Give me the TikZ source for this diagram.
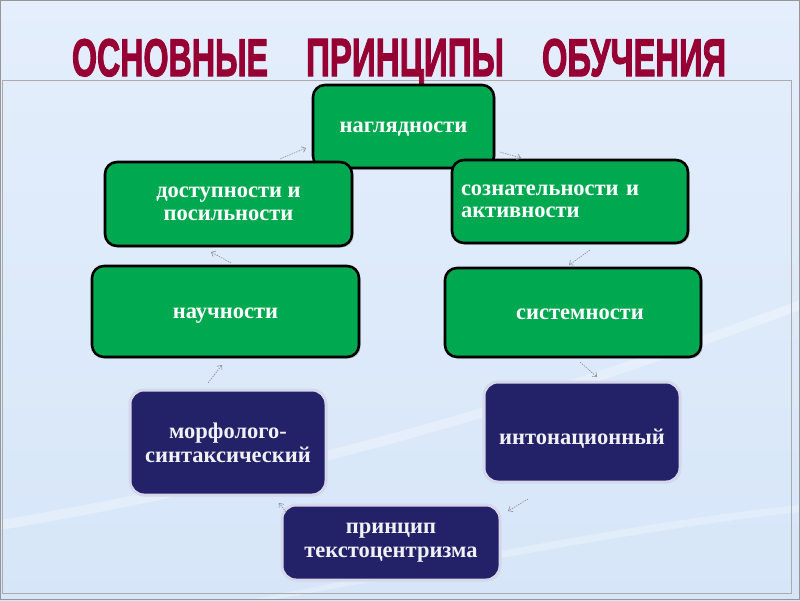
\documentclass[tikz,border=0pt]{standalone}
\usepackage{graphicx}
\usepackage{fontspec}
\setmainfont{Liberation Serif}
\newfontface\titleface{Liberation Sans Bold}[FakeBold=2.5]
\usetikzlibrary{arrows.meta,shadows}
\definecolor{bgtop}{RGB}{228,238,252}
\definecolor{bgbot}{RGB}{214,230,248}
\definecolor{titlered}{RGB}{150,0,50}
\definecolor{boxgreen}{RGB}{0,168,80}
\definecolor{boxnavy}{RGB}{35,33,104}
\definecolor{navyedge}{RGB}{215,215,235}
\definecolor{navytext}{RGB}{240,240,245}
\definecolor{frameg}{RGB}{150,150,150}
\definecolor{arrowg}{RGB}{140,140,150}
\newcommand{\lowtext}[2]{\raisebox{-#1}[0pt][0pt]{#2}}
\begin{document}
\begin{tikzpicture}[x=1pt,y=-1pt,
  greenbox/.style={draw=black, line width=2.6pt, fill=boxgreen, rounded corners=12pt,
    text=white, font=\bfseries\fontsize{22.5}{22.5}\selectfont, align=center,
    drop shadow={shadow xshift=1.5pt, shadow yshift=-1.5pt, opacity=0.45}},
  navybox/.style={draw=navyedge, line width=3pt, fill=boxnavy, rounded corners=14pt,
    text=navytext, font=\bfseries\fontsize{22.5}{24}\selectfont, align=center,
    drop shadow={shadow xshift=1pt, shadow yshift=-1pt, opacity=0.35}},
  flowarrow/.style={draw=arrowg, line width=0.6pt, dash pattern=on 1.5pt off 1pt,
    -{Straight Barb[length=3.5pt,width=6pt]}},
  titleword/.style={text=titlered, anchor=base, inner sep=0pt}
]
\useasboundingbox (0,0) rectangle (800,600);
% background
\shade[top color=bgtop, bottom color=bgbot] (0,0) rectangle (800,600);
\fill[white, opacity=0.3] (0,520) .. controls (300,470) and (560,390) .. (800,300)
  -- (800,310) .. controls (560,400) and (300,480) .. (0,530) -- cycle;
\fill[white, opacity=0.25] (250,600) .. controls (450,560) and (650,520) .. (800,505)
  -- (800,512) .. controls (650,528) and (450,568) .. (270,600) -- cycle;
\draw[frameg, line width=1.2pt] (0.6,0.6) rectangle (799.4,599.4);
\draw[frameg!80, line width=0.8pt] (2,80) rectangle (791,593);

% title
\node[titleword] (t1) at (170,76) {\resizebox{196pt}{37pt}{\titleface ОСНОВНЫЕ}};
\node[titleword] (t2) at (405,76) {\resizebox{198pt}{37pt}{\titleface ПРИНЦИПЫ}};
\node[titleword] (t3) at (634,76) {\resizebox{184pt}{37pt}{\titleface ОБУЧЕНИЯ}};

% green boxes
\node[greenbox, minimum width=181pt, minimum height=83pt] (nagl) at (403.5,126.5) {\lowtext{5.5pt}{наглядности}};
\node[greenbox, minimum width=247pt, minimum height=84pt] (dost) at (228.5,204) {доступности и\\посильности};
\node[greenbox, minimum width=236pt, minimum height=83pt, align=left, text width=218pt, inner xsep=9pt] (soz) at (570,201.5) {сознательности и\\активности};
\node[greenbox, minimum width=267pt, minimum height=91pt] (nauch) at (225.5,311.5) {\lowtext{6.5pt}{научности}};
\node[greenbox, minimum width=256pt, minimum height=89pt] (sist) at (573,312.5) {\lowtext{6.5pt}{\hspace*{14pt}системности}};

% navy boxes
\node[navybox, minimum width=196pt, minimum height=105pt] (morph) at (228,442.5) {морфолого-\\синтаксический};
\node[navybox, minimum width=196pt, minimum height=100pt] (inton) at (582,432) {\lowtext{12pt}{интонационный}};
\node[navybox, minimum width=218pt, minimum height=75pt] (princ) at (391,542.5) {принцип\\текстоцентризма};

% connector end points
\coordinate (a1s) at (280,159);
\coordinate (a1e) at (306,148);
\coordinate (a2s) at (500,152);
\coordinate (a2e) at (521,158);
\coordinate (a3s) at (590,250);
\coordinate (a3e) at (569,265);
\coordinate (a4s) at (580,362);
\coordinate (a4e) at (597,377);
\coordinate (a5s) at (528,499);
\coordinate (a5e) at (508,511);
\coordinate (a6s) at (286,512);
\coordinate (a6e) at (279,503);
\coordinate (a7s) at (208,383);
\coordinate (a7e) at (222,365);
\coordinate (a8s) at (231,263);
\coordinate (a8e) at (211,252);

\draw[flowarrow] (a1s) -- (a1e);
\draw[flowarrow] (a2s) -- (a2e);
\draw[flowarrow] (a3s) -- (a3e);
\draw[flowarrow] (a4s) -- (a4e);
\draw[flowarrow] (a5s) -- (a5e);
\draw[flowarrow] (a6s) -- (a6e);
\draw[flowarrow] (a7s) -- (a7e);
\draw[flowarrow] (a8s) -- (a8e);
\end{tikzpicture}
\end{document}
